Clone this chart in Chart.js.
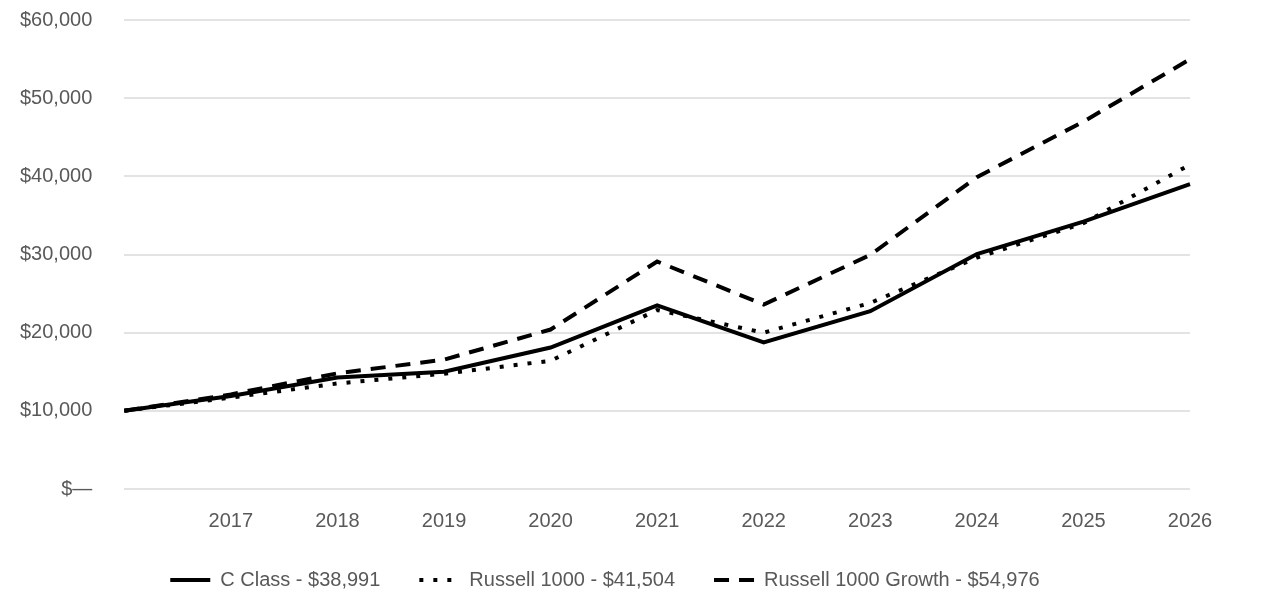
<!DOCTYPE html>
<html>
<head>
<meta charset="utf-8">
<script src="https://cdn.jsdelivr.net/npm/chart.js@4"></script>
<style>
  body { margin: 0; background: #fff; }
  #wrap { width: 1286px; height: 614px; }
</style>
</head>
<body>
<div id="wrap"><canvas id="growthChart"></canvas></div>
<script>
var years = ["", "2017", "2018", "2019", "2020", "2021", "2022", "2023", "2024", "2025", "2026"];
var cClass = [10000, 11900, 14250, 15000, 18100, 23500, 18750, 22750, 30050, 34200, 38991];
var russell1000 = [10000, 11700, 13500, 14750, 16400, 22900, 20000, 23800, 29600, 34000, 41504];
var russell1000Growth = [10000, 12100, 14800, 16550, 20400, 29100, 23600, 29950, 39900, 47000, 54976];
var yTicks = [0, 10000, 20000, 30000, 40000, 50000, 60000];

var labelFont = { family: "'Liberation Sans', Arial, sans-serif", size: 20 };

function money(v) {
  if (v === 0) return "$\u2014";
  return "$" + v.toLocaleString("en-US");
}

window.onload = function() {
  var ctx = document.getElementById('growthChart').getContext('2d');
  var chart = new Chart(ctx, {
    type: 'line',
    data: {
      labels: years,
      datasets: [{
        label: "C Class - $38,991",
        data: cClass,
        borderColor: '#000',
        backgroundColor: '#000',
        borderWidth: 4,
        pointRadius: 0,
        tension: 0
      }, {
        label: "Russell 1000 - $41,504",
        data: russell1000,
        borderColor: '#000',
        backgroundColor: '#000',
        borderWidth: 4,
        borderDash: [4, 10],
        borderCapStyle: 'butt',
        pointRadius: 0,
        tension: 0
      }, {
        label: "Russell 1000 Growth - $54,976",
        data: russell1000Growth,
        borderColor: '#000',
        backgroundColor: '#000',
        borderWidth: 4,
        borderDash: [15, 10],
        pointRadius: 0,
        tension: 0
      }]
    },
    options: {
      responsive: true,
      maintainAspectRatio: false,
      animation: false,
      devicePixelRatio: 1,
      layout: {
        padding: { top: 20, right: 96, bottom: 14, left: 20 }
      },
      scales: {
        x: {
          offset: false,
          grid: { display: false },
          border: { display: false },
          ticks: { color: '#595959', font: labelFont, padding: 12, maxRotation: 0, autoSkip: false },
          afterFit: function(axis) { axis.height -= 14; }
        },
        y: {
          min: 0,
          max: 60000,
          afterBuildTicks: function(axis) {
            axis.ticks = yTicks.map(function(v) { return { value: v }; });
          },
          grid: { color: '#e3e3e3', lineWidth: 2, drawTicks: true, tickLength: 32, tickColor: 'rgba(0,0,0,0)' },
          border: { display: false },
          ticks: { color: '#595959', font: labelFont, padding: 0, callback: function(v) { return money(v); } }
        }
      },
      plugins: {
        tooltip: { enabled: false },
        legend: {
          position: 'bottom',
          labels: {
            usePointStyle: true,
            pointStyle: 'line',
            pointStyleWidth: 40,
            color: '#595959',
            font: labelFont,
            padding: 39,
            generateLabels: function(chart) {
              var items = Chart.defaults.plugins.legend.labels.generateLabels(chart);
              items.forEach(function(item) {
                var ds = chart.data.datasets[item.datasetIndex];
                item.lineDash = ds.borderDash || [];
                item.lineWidth = ds.borderWidth;
                item.strokeStyle = '#000';
              });
              return items;
            }
          }
        }
      }
    }
  });
};
</script>
</body>
</html>
